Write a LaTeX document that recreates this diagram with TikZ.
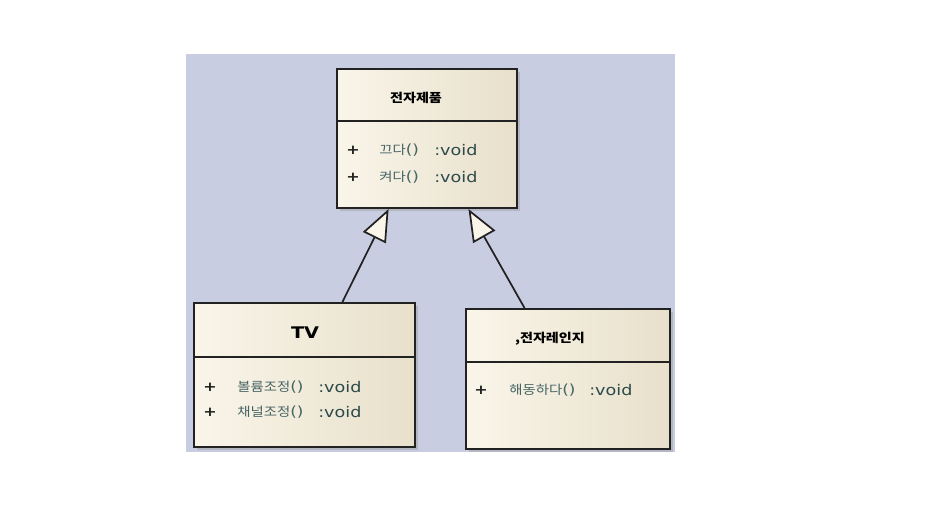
\documentclass[tikz,border=0pt]{standalone}
\usepackage{fontspec}
\setmainfont{DejaVu Sans}[FakeStretch=1.2]
\newfontfamily\krfont{Noto Sans CJK KR}[FakeStretch=1.15]
\usetikzlibrary{arrows.meta,calc,shadows}

\definecolor{bgblue}{RGB}{201,205,226}
\definecolor{boxlight}{RGB}{249,245,233}
\definecolor{boxdark}{RGB}{232,224,203}
\definecolor{boxline}{RGB}{34,34,34}
\definecolor{optext}{RGB}{44,74,74}
\definecolor{krtext}{RGB}{70,100,100}

\newcommand{\opparens}{{\rmfamily\fontsize{10.5}{12}\selectfont()}}

\tikzset{
  classbox/.style={draw=boxline, line width=1.5pt, left color=boxlight, right color=boxdark,
    drop shadow={shadow xshift=2pt, shadow yshift=-2pt, fill=black!40, opacity=.45}},
  divline/.style={draw=boxline, line width=1.5pt},
  title/.style={inner sep=0pt, font=\krfont\bfseries\fontsize{9.2}{11}\selectfont},
  vis/.style={inner sep=0pt, text=boxline, font=\bfseries\fontsize{10}{12}\selectfont},
  opname/.style={inner sep=0pt, anchor=west, text=krtext, font=\krfont\fontsize{9.4}{11}\selectfont},
  optype/.style={inner sep=0pt, anchor=west, text=optext, font=\fontsize{11}{13}\selectfont},
  genline/.style={draw=boxline, line width=1.3pt,
    -{Triangle[length=24pt, width=19pt, fill=boxlight]}},
}

\begin{document}
\begin{tikzpicture}[x=0.75pt, y=-0.75pt]
  \useasboundingbox (0,0) rectangle (932,504);
  \fill[bgblue] (186,54) rectangle (675,452);

  % classes
  \node[classbox, minimum width=135pt, minimum height=104.25pt] (prod) at (427,138.5) {};
  \node[classbox, minimum width=165.75pt, minimum height=108pt] (tv) at (304.5,375) {};
  \node[classbox, minimum width=153pt, minimum height=105pt] (oven) at (568,379) {};

  \draw[divline] ([yshift=-39.75pt]prod.north west) -- ([yshift=-39.75pt]prod.north east);
  \draw[divline] ([yshift=-41.25pt]tv.north west) -- ([yshift=-41.25pt]tv.north east);
  \draw[divline] ([yshift=-40.5pt]oven.north west) -- ([yshift=-40.5pt]oven.north east);

  % 전자제품
  \node[title] (prodname) at (416,98) {전자제품};
  \node[vis] (p1vis) at (353,150) {+};
  \node[opname] (p1name) at (379,150) {끄다\opparens};
  \node[optype] (p1type) at (434,150) {:void};
  \node[vis] (p2vis) at (353,177) {+};
  \node[opname] (p2name) at (379,177) {켜다\opparens};
  \node[optype] (p2type) at (434,177) {:void};

  % TV
  \node[inner sep=0pt, font=\bfseries\fontsize{12}{14}\selectfont] (tvname) at (305,333) {TV};
  \node[vis] (t1vis) at (210,387) {+};
  \node[opname] (t1name) at (237,387) {볼륨조정\opparens};
  \node[optype] (t1type) at (318,387) {:void};
  \node[vis] (t2vis) at (210,412) {+};
  \node[opname] (t2name) at (237,412) {채널조정\opparens};
  \node[optype] (t2type) at (318,412) {:void};

  % 전자레인지
  \node[title] (ovenname) at (550,339) {,전자레인지};
  \node[vis] (o1vis) at (481,390) {+};
  \node[opname] (o1name) at (509,390) {해동하다\opparens};
  \node[optype] (o1type) at (589,390) {:void};

  % generalization
  \draw[genline] ($(tv.north west)!0.67!(tv.north east)$) -- ($(prod.south west)!0.289!(prod.south east)$);
  \draw[genline] ($(oven.north west)!0.289!(oven.north east)$) -- ($(prod.south west)!0.728!(prod.south east)$);
\end{tikzpicture}
\end{document}
